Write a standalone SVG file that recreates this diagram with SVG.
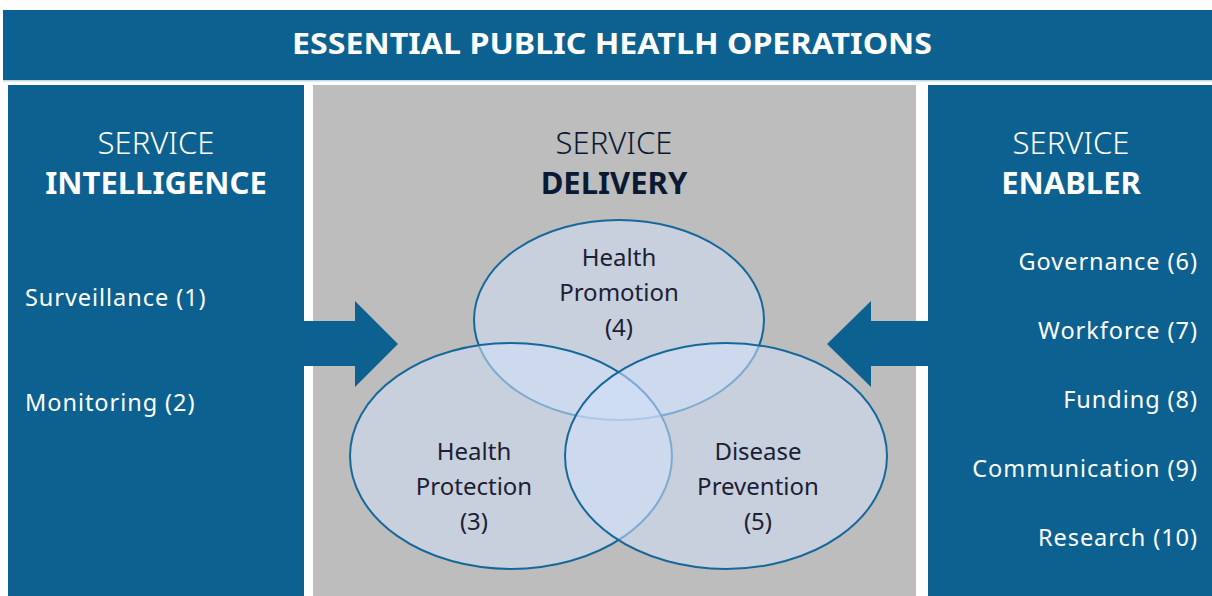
<svg xmlns="http://www.w3.org/2000/svg" width="1212" height="596" viewBox="0 0 1212 596">
<defs>
<style>
.panel{fill:#0d6190}
.gray{fill:#bdbdbd}
.t{font-family:"Noto Sans","Open Sans","DejaVu Sans",sans-serif}
.hd{font-size:31px;fill:#ffffff;text-anchor:middle}
.light{font-weight:300}
.bold{font-weight:700}
.item{font-size:23.5px;fill:#ffffff;letter-spacing:0.95px}
.ell{fill:#d2e0fa;fill-opacity:0.55;stroke:#17689a;stroke-width:2}
.ct{font-size:24px;fill:#1b2133;text-anchor:middle}
.arrow{fill:#0d6190}
</style>
</defs>
<rect width="1212" height="596" fill="#ffffff"/>
<g id="title">
<rect x="3" y="10" width="1209" height="70" class="panel"/>
<rect x="3" y="80" width="1209" height="1.5" fill="#c3d9e8"/>
<text x="612" y="54" class="t bold" font-size="28" fill="#ffffff" text-anchor="middle" textLength="640" lengthAdjust="spacingAndGlyphs">ESSENTIAL PUBLIC HEATLH OPERATIONS</text>
</g>
<g id="intelligence">
<rect x="8" y="85" width="296" height="511" class="panel"/>
<text x="156" y="154" class="t hd light">SERVICE</text>
<text x="156" y="194" class="t hd bold">INTELLIGENCE</text>
<text x="25" y="306" class="t item">Surveillance (1)</text>
<text x="25" y="411" class="t item">Monitoring (2)</text>
</g>
<g id="delivery">
<rect x="313" y="85" width="603" height="511" class="gray"/>
<text x="614" y="154" class="t hd light" style="fill:#0b1a33">SERVICE</text>
<text x="614" y="194" class="t hd bold" style="fill:#0b1a33">DELIVERY</text>
</g>
<g id="enabler">
<rect x="928" y="85" width="284" height="511" class="panel"/>
<text x="1071" y="154" class="t hd light">SERVICE</text>
<text x="1071" y="194" class="t hd bold">ENABLER</text>
<g class="t item" text-anchor="end">
<text x="1198" y="270">Governance (6)</text>
<text x="1198" y="339">Workforce (7)</text>
<text x="1198" y="408">Funding (8)</text>
<text x="1198" y="477">Communication (9)</text>
<text x="1198" y="546">Research (10)</text>
</g>
</g>
<g id="connectors">
<polygon class="arrow" points="304,321 355,321 355,301 398,344 355,387 355,366 304,366"/>
<polygon class="arrow" points="928,321 871,321 871,301 827,344 871,387 871,366 928,366"/>
</g>
<g id="health-promotion">
<ellipse class="ell" cx="619" cy="320" rx="145" ry="100"/>
</g>
<g id="health-protection">
<ellipse class="ell" cx="511" cy="456" rx="161" ry="113"/>
</g>
<g id="disease-prevention">
<ellipse class="ell" cx="726" cy="456" rx="161" ry="113"/>
</g>
<g id="labels" class="t ct">
<text x="619" y="266">Health</text>
<text x="619" y="301">Promotion</text>
<text x="619" y="336">(4)</text>
<text x="474" y="460">Health</text>
<text x="474" y="495">Protection</text>
<text x="474" y="530">(3)</text>
<text x="758" y="460">Disease</text>
<text x="758" y="495">Prevention</text>
<text x="758" y="530">(5)</text>
</g>
</svg>
